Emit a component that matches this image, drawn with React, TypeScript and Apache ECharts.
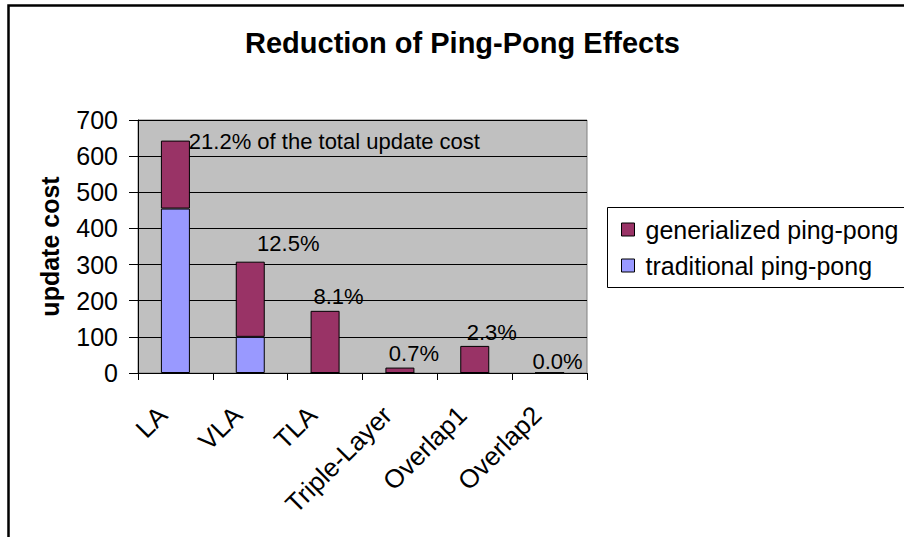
import React, { useEffect, useRef } from "react";
import * as echarts from "echarts";

const categories = ["LA", "VLA", "TLA", "Triple-Layer", "Overlap1", "Overlap2"];
const traditionalPingPong = [455, 100, 0, 0, 0, 0];
const generalizedPingPong = [188, 208, 172, 15, 75, 0];
const percentLabels = [
  "21.2% of the total update cost",
  "12.5%",
  "8.1%",
  "0.7%",
  "2.3%",
  "0.0%",
];
const yTicks = { min: 0, max: 700, interval: 100 };

const FONT = "'Liberation Sans', Arial, sans-serif";

export default function App() {
  const ref = useRef<HTMLDivElement>(null);

  useEffect(() => {
    if (!ref.current) return;
    const chart = echarts.init(ref.current, null, { renderer: "svg" });

    // label placement offsets (style, not data)
    const labelOffsets: [number, number][] = [
      [159, 1],
      [38, -18],
      [13.5, -14],
      [14, -14],
      [17, -13],
      [8, -11],
    ];

    const option: any = {
      animation: false,
      backgroundColor: "#ffffff",
      textStyle: { fontFamily: FONT },
      title: {
        text: "Reduction of Ping-Pong Effects",
        left: 240,
        top: 23,
        textStyle: {
          fontFamily: FONT,
          fontSize: 29,
          fontWeight: "bold",
          color: "#000",
        },
      },
      graphic: [
        {
          type: "rect",
          z: -10,
          shape: { x: 8.5, y: 5.5, width: 1000, height: 1000 },
          style: { fill: "none", stroke: "#000", lineWidth: 2.5 },
        },
        {
          type: "rect",
          z: 0,
          shape: { x: 607.5, y: 207.5, width: 400, height: 80 },
          style: { fill: "#fff", stroke: "#000", lineWidth: 1 },
        },
      ],
      legend: {
        orient: "vertical",
        left: 616,
        top: 212,
        itemWidth: 13,
        itemHeight: 13,
        itemGap: 11,
        icon: "rect",
        data: ["generialized ping-pong", "traditional ping-pong"],
        textStyle: {
          fontFamily: FONT,
          fontSize: 25,
          lineHeight: 25,
          color: "#000",
          padding: [0, 0, 0, 6],
        },
        itemStyle: { borderColor: "#000", borderWidth: 1 },
      },
      grid: {
        left: 138,
        top: 120,
        width: 449,
        height: 253,
        show: true,
        backgroundColor: "#C0C0C0",
        borderColor: "#808080",
        borderWidth: 1,
        containLabel: false,
      },
      xAxis: {
        type: "category",
        data: categories,
        boundaryGap: true,
        axisLine: { show: true, lineStyle: { color: "#000", width: 1 } },
        axisTick: {
          show: true,
          interval: 0,
          length: 7,
          lineStyle: { color: "#000" },
        },
        axisLabel: {
          interval: 0,
          rotate: 45,
          margin: 25,
          fontFamily: FONT,
          fontSize: 26,
          color: "#000",
          formatter: (v: string) => `{t|${v}}`,
          rich: {
            t: {
              fontFamily: FONT,
              fontSize: 26,
              color: "#000",
              padding: [0, 18, 0, 0],
            },
          },
        },
        splitLine: { show: false },
      },
      yAxis: {
        type: "value",
        min: yTicks.min,
        max: yTicks.max,
        interval: yTicks.interval,
        name: "update cost",
        nameLocation: "middle",
        nameGap: 76,
        nameRotate: 90,
        nameTextStyle: {
          fontFamily: FONT,
          fontSize: 25,
          fontWeight: "bold",
          color: "#000",
        },
        axisLine: { show: true, lineStyle: { color: "#000", width: 1 } },
        axisTick: {
          show: true,
          length: 9,
          lineStyle: { color: "#000" },
        },
        axisLabel: {
          margin: 20,
          fontFamily: FONT,
          fontSize: 25,
          color: "#000",
        },
        splitLine: { show: true, lineStyle: { color: "#000", width: 1 } },
      },
      series: [
        {
          name: "traditional ping-pong",
          type: "bar",
          stack: "total",
          barWidth: 29,
          data: traditionalPingPong,
          itemStyle: { color: "#9999FF", borderColor: "#000", borderWidth: 1 },
        },
        {
          name: "generialized ping-pong",
          type: "bar",
          stack: "total",
          barWidth: 29,
          data: generalizedPingPong.map((v, i) => ({
            value: v,
            label: {
              show: true,
              position: "top",
              distance: 0,
              align: "center",
              verticalAlign: "middle",
              offset: labelOffsets[i],
            },
          })),
          itemStyle: { color: "#993366", borderColor: "#000", borderWidth: 1 },
          label: {
            show: true,
            fontFamily: FONT,
            fontSize: 22,
            color: "#000",
            formatter: (p: any) => percentLabels[p.dataIndex],
          },
        },
      ],
    };

    chart.setOption(option);
    return () => chart.dispose();
  }, []);

  return (
    <div
      ref={ref}
      style={{
        position: "absolute",
        left: 0,
        top: 0,
        width: 904,
        height: 537,
        background: "#fff",
      }}
    />
  );
}
